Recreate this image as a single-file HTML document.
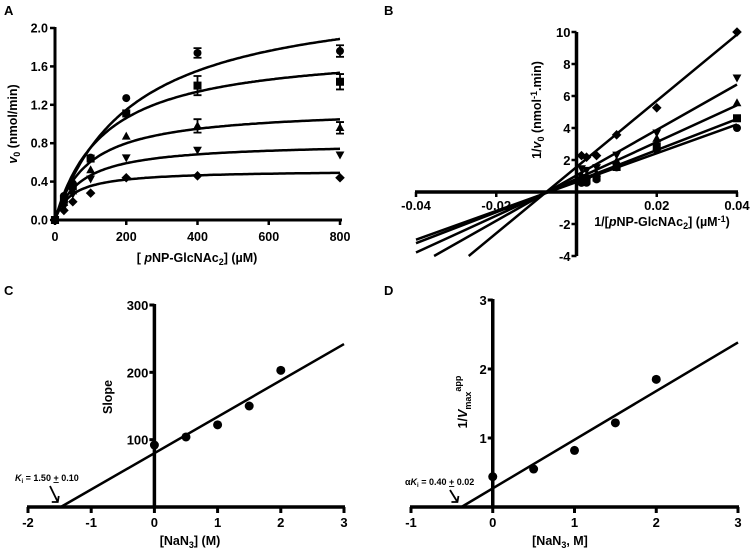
<!DOCTYPE html>
<html><head><meta charset="utf-8"><style>
body{margin:0;background:#fff;}
svg{display:block;font-family:"Liberation Sans",Arial,sans-serif;font-weight:bold;}
</style></head><body>
<svg id="fig" width="755" height="552" viewBox="0 0 755 552">
<g font-size="13">
<text x="4" y="15">A</text>
<text x="384" y="15">B</text>
<text x="4" y="295">C</text>
<text x="384" y="295">D</text>
</g>
<g id="pA"></g>
<g id="pB"></g>
<g id="pC"></g>
<g id="pD"></g>
</svg>
<script>
// ---- Panel A data ----
const aX = [0, 25, 50, 100, 200, 400, 800];
const aCircle = [0, 0.25, 0.38, 0.65, 1.27, 1.74, 1.76];
const aSquare = [0, 0.217, 0.35, 0.64, 1.11, 1.40, 1.44];
const aTriangle = [0, 0.18, 0.30, 0.52, 0.87, 0.98, 0.96];
const aInvTri = [0, 0.14, 0.27, 0.43, 0.65, 0.73, 0.68];
const aDiamond = [0, 0.10, 0.19, 0.28, 0.44, 0.46, 0.44];
const aErrCircle = [0, 0, 0, 0, 0, 0.05, 0.06];
const aErrSquare = [0, 0, 0, 0, 0, 0.10, 0.08];
const aErrTriangle = [0, 0, 0, 0, 0, 0.07, 0.06];
const aVmax = [2.40, 1.80, 1.17, 0.81, 0.52];
const aKm = [218, 139, 93, 74, 47];
const aXTicks = [0, 200, 400, 600, 800];
const aYTicks = [0, 0.4, 0.8, 1.2, 1.6, 2.0];
// ---- Panel B data ----
const bXTicks = [-0.04, -0.02, 0.02, 0.04];
const bYTicks = [-4, -2, 2, 4, 6, 8, 10];
const bSlopes = [90, 97, 115, 142, 207];
const bIntercepts = [0.62, 0.68, 0.82, 1.04, 1.56];
// ---- Panel C data ----
const cX = [0, 0.5, 1, 1.5, 2];
const cSlope = [92, 104, 122, 150, 203];
const cFitSlope = 54; const cFitIntercept = 80;
const cXTicks = [-2, -1, 0, 1, 2, 3];
const cYTicks = [100, 200, 300];
// ---- Panel D data ----
const dX = [0, 0.5, 1, 1.5, 2];
const dInvVmax = [0.44, 0.55, 0.82, 1.22, 1.85];
const dFitSlope = 0.705; const dFitIntercept = 0.27;
const dXTicks = [-1, 0, 1, 2, 3];
const dYTicks = [1, 2, 3];

const NS = "http://www.w3.org/2000/svg";
const TICK_FS = 12.5, TITLE_FS = 12.5;
function el(parent, tag, attrs, text) {
  const e = document.createElementNS(NS, tag);
  for (const k in attrs) e.setAttribute(k, attrs[k]);
  if (text !== undefined) e.textContent = text;
  parent.appendChild(e);
  return e;
}
function lin(d0, d1, r0, r1) { return v => r0 + (v - d0) * (r1 - r0) / (d1 - d0); }
function marker(g, shape, x, y, r) {
  let m;
  if (shape === 'circle') m = el(g, 'circle', {cx: x, cy: y, r: r});
  else if (shape === 'square') m = el(g, 'rect', {x: x - r, y: y - r, width: 2 * r, height: 2 * r});
  else if (shape === 'triangle') m = el(g, 'polygon', {points: `${x},${y - r * 1.2} ${x - r * 1.1},${y + r * 0.8} ${x + r * 1.1},${y + r * 0.8}`});
  else if (shape === 'invtri') m = el(g, 'polygon', {points: `${x},${y + r * 1.2} ${x - r * 1.1},${y - r * 0.8} ${x + r * 1.1},${y - r * 0.8}`});
  else m = el(g, 'polygon', {points: `${x},${y - r * 1.2} ${x + r * 1.2},${y} ${x},${y + r * 1.2} ${x - r * 1.2},${y}`});
  m.setAttribute('fill', '#000');
  return m;
}
const shapes = ['circle', 'square', 'triangle', 'invtri', 'diamond'];

// ================= Panel A =================
(function () {
  const g = document.getElementById('pA');
  const sx = lin(0, 800, 55, 340), sy = lin(0, 2.0, 220, 28);
  const ax = el(g, 'g', {});
  
  
  el(ax, 'line', {x1: 54, y1: 220, x2: 342, y2: 220, stroke: '#000', 'stroke-width': 3});
  el(ax, 'line', {x1: 55, y1: 221, x2: 55, y2: 27, stroke: '#000', 'stroke-width': 3});
  aXTicks.forEach(t => {
    el(ax, 'line', {x1: sx(t), y1: 220, x2: sx(t), y2: 225, stroke: '#000', 'stroke-width': 2.5});
    const tx = el(ax, 'text', {x: sx(t), y: 241, 'text-anchor': 'middle', 'font-size': TICK_FS}, t);
    
    
  });
  aYTicks.forEach(t => {
    el(ax, 'line', {x1: 50, y1: sy(t), x2: 55, y2: sy(t), stroke: '#000', 'stroke-width': 2.5});
    const tx = el(ax, 'text', {x: 48, y: sy(t) + 4.5, 'text-anchor': 'end', 'font-size': TICK_FS}, t.toFixed(1));
    
    
  });
  const xt = el(g, 'text', {x: 197, y: 262, 'text-anchor': 'middle', 'font-size': TITLE_FS});
  xt.innerHTML = '[ <tspan font-style="italic">p</tspan>NP-GlcNAc<tspan font-size="9" dy="3">2</tspan><tspan dy="-3">] (µM)</tspan>';
  
  
  const yt = el(g, 'text', {transform: 'translate(17,124) rotate(-90)', 'text-anchor': 'middle', 'font-size': TITLE_FS});
  yt.innerHTML = '<tspan font-style="italic">v</tspan><tspan font-size="9" dy="3">0</tspan><tspan dy="-3"> (nmol/min)</tspan>';
  
  
  const series = [aCircle, aSquare, aTriangle, aInvTri, aDiamond];
  const errs = [aErrCircle, aErrSquare, aErrTriangle, null, null];
  series.forEach((vals, i) => {
    const sg = el(g, 'g', {});
    
    
    let d = '';
    for (let s = 0; s <= 800; s += 5) {
      const v = aVmax[i] * s / (aKm[i] + s);
      d += (s ? 'L' : 'M') + sx(s).toFixed(1) + ',' + sy(v).toFixed(1);
    }
    const p = el(sg, 'path', {d: d, fill: 'none', stroke: '#000', 'stroke-width': 2.5});
    
    
    vals.forEach((v, j) => {
      if (errs[i] && errs[i][j] > 0) {
        const e = errs[i][j];
        el(sg, 'path', {d: `M${sx(aX[j])},${sy(v - e)}V${sy(v + e)}M${sx(aX[j]) - 4},${sy(v + e)}h8M${sx(aX[j]) - 4},${sy(v - e)}h8`, stroke: '#000', 'stroke-width': 1.8, fill: 'none'});
      }
      const m = marker(sg, shapes[i], sx(aX[j]), sy(v), 4);
      
      
    });
  });
})();

// ================= Panel B =================
(function () {
  const g = document.getElementById('pB');
  const sx = lin(-0.04, 0.04, 416, 737), sy = lin(0, 10, 192, 32);
  const ax = el(g, 'g', {});
  
  
  el(ax, 'line', {x1: 415, y1: 192, x2: 738, y2: 192, stroke: '#000', 'stroke-width': 3.5});
  el(ax, 'line', {x1: sx(0), y1: sy(-4), x2: sx(0), y2: sy(10), stroke: '#000', 'stroke-width': 3.5});
  bXTicks.forEach(t => {
    el(ax, 'line', {x1: sx(t), y1: 192, x2: sx(t), y2: 197, stroke: '#000', 'stroke-width': 2.5});
    const tx = el(ax, 'text', {x: sx(t), y: 210, 'text-anchor': 'middle', 'font-size': TICK_FS + 0.5}, t.toFixed(2));
    
    
  });
  bYTicks.forEach(t => {
    el(ax, 'line', {x1: sx(0) - 5, y1: sy(t), x2: sx(0), y2: sy(t), stroke: '#000', 'stroke-width': 2.5});
    const tx = el(ax, 'text', {x: sx(0) - 6, y: sy(t) + 5, 'text-anchor': 'end', 'font-size': TICK_FS + 0.5}, t);
    
    
  });
  const xt = el(g, 'text', {x: 662, y: 226, 'text-anchor': 'middle', 'font-size': TITLE_FS});
  xt.innerHTML = '1/[<tspan font-style="italic">p</tspan>NP-GlcNAc<tspan font-size="9" dy="3">2</tspan><tspan dy="-3">] (µM</tspan><tspan font-size="9" dy="-4">-1</tspan><tspan dy="4">)</tspan>';
  
  
  const yt = el(g, 'text', {transform: 'translate(541,110) rotate(-90)', 'text-anchor': 'middle', 'font-size': TITLE_FS});
  yt.innerHTML = '1/<tspan font-style="italic">v</tspan><tspan font-size="9" dy="3">0</tspan><tspan dy="-3"> (nmol</tspan><tspan font-size="9" dy="-4">-1</tspan><tspan dy="4">.min)</tspan>';
  
  
  const series = [aCircle, aSquare, aTriangle, aInvTri, aDiamond];
  series.forEach((vals, i) => {
    const sg = el(g, 'g', {});
    
    
    let x0 = -0.04;
    const yAt = x => bSlopes[i] * x + bIntercepts[i];
    if (yAt(x0) < -4) x0 = (-4 - bIntercepts[i]) / bSlopes[i];
    const l = el(sg, 'line', {x1: sx(x0), y1: sy(yAt(x0)), x2: sx(0.04), y2: sy(yAt(0.04)), stroke: '#000', 'stroke-width': 2.5});
    
    
    vals.forEach((v, j) => {
      if (aX[j] === 0) return;
      const m = marker(sg, shapes[i], sx(1 / aX[j]), sy(1 / v), 4);
      
      
    });
  });
})();

// ================= Replot helper =================
function replot(g, xs, ys, fitS, fitI, xTicks, yTicks, sx, sy, xmin, xmax, ymax) {
  const ax = el(g, 'g', {});
  
  
  el(ax, 'line', {x1: sx(xmin) - 1, y1: sy(0), x2: sx(xmax) + 1, y2: sy(0), stroke: '#000', 'stroke-width': 3.5});
  el(ax, 'line', {x1: sx(0), y1: sy(0), x2: sx(0), y2: sy(ymax) - 1, stroke: '#000', 'stroke-width': 3.5});
  xTicks.forEach(t => {
    el(ax, 'line', {x1: sx(t), y1: sy(0), x2: sx(t), y2: sy(0) + 6, stroke: '#000', 'stroke-width': 3});
    const tx = el(ax, 'text', {x: sx(t), y: sy(0) + 20, 'text-anchor': 'middle', 'font-size': TICK_FS + 0.5}, t);
    
    
  });
  yTicks.forEach(t => {
    el(ax, 'line', {x1: sx(0) - 5, y1: sy(t), x2: sx(0), y2: sy(t), stroke: '#000', 'stroke-width': 3});
    const tx = el(ax, 'text', {x: sx(0) - 6, y: sy(t) + 5, 'text-anchor': 'end', 'font-size': TICK_FS + 0.5}, t);
    
    
  });
  const x0 = -fitI / fitS;
  const l = el(g, 'line', {x1: sx(x0), y1: sy(0), x2: sx(xmax), y2: sy(fitS * xmax + fitI), stroke: '#000', 'stroke-width': 2.5});
  
  
  xs.forEach((x, j) => {
    const c = el(g, 'circle', {cx: sx(x), cy: sy(ys[j]), r: 4.5, fill: '#000'});
    
    
  });
  return x0;
}

// ================= Panel C =================
(function () {
  const g = document.getElementById('pC');
  const sx = lin(-2, 3, 28, 344), sy = lin(0, 300, 507, 305);
  const x0 = replot(g, cX, cSlope, cFitSlope, cFitIntercept, cXTicks, cYTicks, sx, sy, -2, 3, 300);
  const xt = el(g, 'text', {x: 190, y: 545, 'text-anchor': 'middle', 'font-size': TITLE_FS});
  xt.innerHTML = '[NaN<tspan font-size="9" dy="3">3</tspan><tspan dy="-3">] (M)</tspan>';
  
  
  const yt = el(g, 'text', {transform: 'translate(112,397) rotate(-90)', 'text-anchor': 'middle', 'font-size': TITLE_FS}, 'Slope');
  
  
  const an = el(g, 'text', {x: 15, y: 481, 'font-size': 9});
  an.innerHTML = '<tspan font-style="italic">K</tspan><tspan font-size="6" dy="2">i</tspan><tspan dy="-2"> = 1.50 </tspan><tspan text-decoration="underline">+</tspan> 0.10';
  
  
  const ar = el(g, 'path', {d: `M50,486 L${sx(x0) - 3},${sy(0) - 5} M${sx(x0) - 9},${sy(0) - 5} L${sx(x0) - 3},${sy(0) - 5} L${sx(x0) - 2},${sy(0) - 11}`, stroke: '#000', 'stroke-width': 1.8, fill: 'none'});
  
  
})();

// ================= Panel D =================
(function () {
  const g = document.getElementById('pD');
  const sx = lin(-1, 3, 411, 738), sy = lin(0, 3, 507, 300);
  const x0 = replot(g, dX, dInvVmax, dFitSlope, dFitIntercept, dXTicks, dYTicks, sx, sy, -1, 3, 3);
  const xt = el(g, 'text', {x: 560, y: 545, 'text-anchor': 'middle', 'font-size': TITLE_FS});
  xt.innerHTML = '[NaN<tspan font-size="9" dy="3">3</tspan><tspan dy="-3">, M]</tspan>';
  
  
  const yt = el(g, 'text', {transform: 'translate(467,402) rotate(-90)', 'text-anchor': 'middle', 'font-size': TITLE_FS});
  yt.innerHTML = '1/<tspan font-style="italic">V</tspan><tspan font-size="9" dy="4">max</tspan><tspan font-size="9" dy="-10">app</tspan>';
  
  
  const an = el(g, 'text', {x: 405, y: 485, 'font-size': 9});
  an.innerHTML = 'α<tspan font-style="italic">K</tspan><tspan font-size="6" dy="2">i</tspan><tspan dy="-2"> = 0.40 </tspan><tspan text-decoration="underline">+</tspan> 0.02';
  
  
  const ar = el(g, 'path', {d: `M450,490 L${sx(x0) - 4},${sy(0) - 5} M${sx(x0) - 10},${sy(0) - 5} L${sx(x0) - 4},${sy(0) - 5} L${sx(x0) - 3},${sy(0) - 11}`, stroke: '#000', 'stroke-width': 1.8, fill: 'none'});
  
  
})();
</script>
</body></html>
